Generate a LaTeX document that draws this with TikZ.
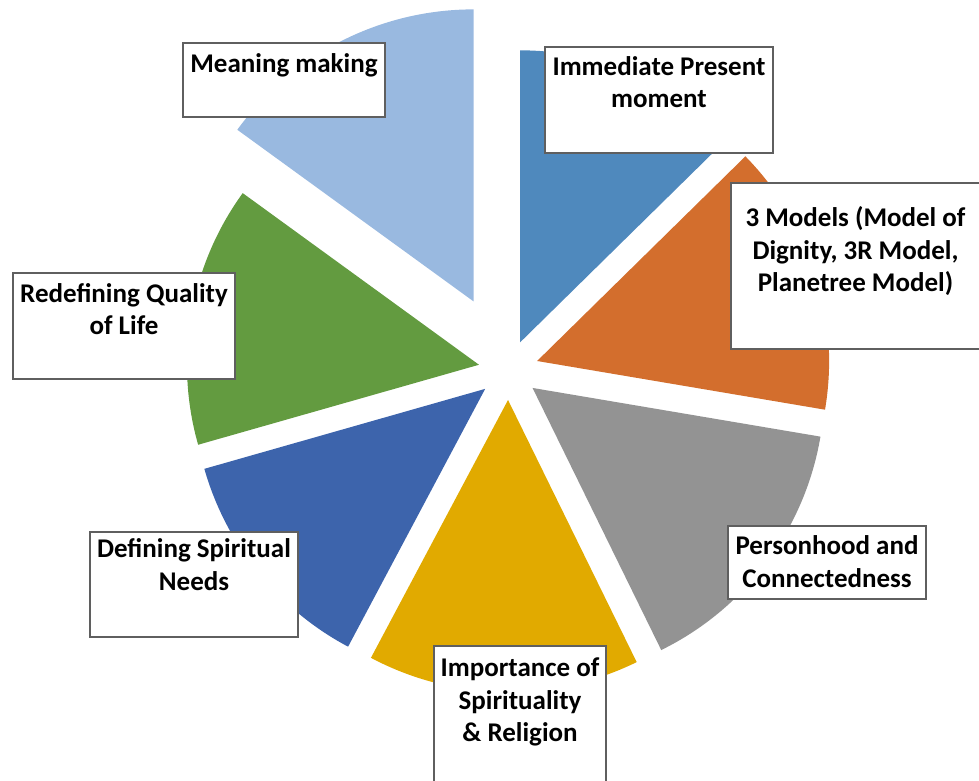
\documentclass[tikz,border=0pt]{standalone}
\usepackage{fontspec}
\setmainfont{Carlito}
\usetikzlibrary{calc}

% slice colours
\definecolor{wedgeSteel}{RGB}{79,137,189}
\definecolor{wedgeOrange}{RGB}{211,110,45}
\definecolor{wedgeGray}{RGB}{147,147,147}
\definecolor{wedgeGold}{RGB}{225,170,0}
\definecolor{wedgeBlue}{RGB}{61,100,172}
\definecolor{wedgeGreen}{RGB}{99,155,64}
\definecolor{wedgeSky}{RGB}{153,185,224}
\definecolor{boxline}{RGB}{95,95,95}

\tikzset{
  labelbox/.style={draw=boxline, line width=1.4pt, fill=white, inner sep=0pt},
  % anchor=base sits on the baseline of the last line
  labeltext/.style={font=\bfseries\fontsize{27}{32.5}\selectfont, align=center,
                    anchor=base, inner sep=0pt, text=black},
}

% exploded wedge: colour, start angle, end angle, offset along bisector
\newcommand{\pieWedge}[4]{%
  \fill[#1] ($(C)+({(#2+#3)/2}:#4pt)$) -- ++(#2:292pt)
    arc[start angle=#2, end angle=#3, radius=292pt] -- cycle;}

\begin{document}
\begin{tikzpicture}[x=1pt, y=1pt]
  \useasboundingbox (0,0) rectangle (979,780);
  \clip (0,0) rectangle (979,780);

  \coordinate (C) at (508.5,410);

  % pie wedges, clockwise from the top
  \pieWedge{wedgeSteel}{90}{44.5}{30}
  \pieWedge{wedgeOrange}{44.5}{-9.6}{30}
  \pieWedge{wedgeGray}{-9.6}{-63.85}{30}
  \pieWedge{wedgeGold}{-63.85}{-118}{30}
  \pieWedge{wedgeBlue}{-118}{-164.1}{30}
  \pieWedge{wedgeGreen}{-164.1}{-216}{30}
  \pieWedge{wedgeSky}{-216}{-270}{77}

  % label boxes
  \node[labelbox, minimum width=228pt, minimum height=106pt] (boxPresent) at (659,680) {};
  \node[labeltext] (txtPresent) at (659,672) {Immediate Present\\moment};

  \node[labelbox, minimum width=250pt, minimum height=166pt] (boxModels) at (856,514) {};
  \node[labeltext] (txtModels) at (855.5,488) {3 Models (Model of\\Dignity, 3R Model,\\Planetree Model)};

  \node[labelbox, minimum width=198pt, minimum height=73pt] (boxPerson) at (827,217.5) {};
  \node[labeltext] (txtPerson) at (827,193) {Personhood and\\Connectedness};

  \node[labelbox, minimum width=172pt, minimum height=154pt] (boxFaith) at (520,57) {};
  \node[labeltext] (txtFaith) at (520,38.5) {Importance of\\Spirituality\\\& Religion};

  \node[labelbox, minimum width=208pt, minimum height=105pt] (boxNeeds) at (194,195.5) {};
  \node[labeltext] (txtNeeds) at (194,190) {Defining Spiritual\\Needs};

  \node[labelbox, minimum width=222pt, minimum height=106pt] (boxQuality) at (124,454) {};
  \node[labeltext] (txtQuality) at (124,445) {Redefining Quality\\of Life};

  \node[labelbox, minimum width=202pt, minimum height=74pt] (boxMeaning) at (284,700) {};
  \node[labeltext] (txtMeaning) at (284,707) {Meaning making};
\end{tikzpicture}
\end{document}
